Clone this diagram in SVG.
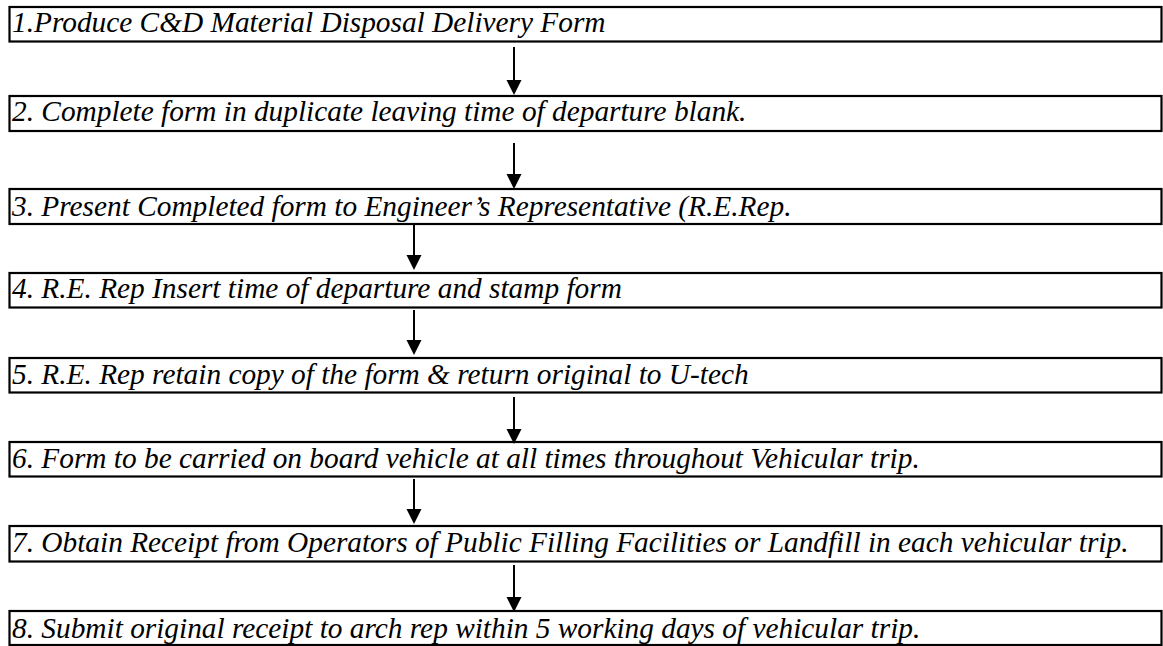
<svg xmlns="http://www.w3.org/2000/svg" width="1163" height="646" viewBox="0 0 1163 646">
<defs>
<style>
.box{fill:#fff;stroke:#000;stroke-width:2.2}
.lbl{font-family:"Liberation Serif","Times New Roman",serif;font-style:italic;font-size:29.33px;fill:#000}
.con{stroke:#000;stroke-width:2;fill:none}
.hd{fill:#000}
</style>
</defs>
<rect width="1163" height="646" fill="#fff"/>
<g id="n1"><rect class="box" x="9.5" y="7" width="1152" height="34.5"/><text class="lbl" x="12" y="32">1.Produce C&amp;D Material Disposal Delivery Form</text></g>
<g id="n2"><rect class="box" x="9.5" y="96" width="1152" height="35"/><text class="lbl" x="12" y="121">2. Complete form in duplicate leaving time of departure blank.</text></g>
<g id="n3"><rect class="box" x="9.5" y="189" width="1152" height="35"/><text class="lbl" x="12" y="216">3. Present Completed form to Engineer’s Representative (R.E.Rep.</text></g>
<g id="n4"><rect class="box" x="9.5" y="273" width="1152" height="34.5"/><text class="lbl" x="12" y="298">4. R.E. Rep Insert time of departure and stamp form</text></g>
<g id="n5"><rect class="box" x="9.5" y="358" width="1152" height="34.5"/><text class="lbl" x="12" y="384">5. R.E. Rep retain copy of the form &amp; return original to U-tech</text></g>
<g id="n6"><rect class="box" x="9.5" y="442" width="1152" height="34.5"/><text class="lbl" x="12" y="468">6. Form to be carried on board vehicle at all times throughout Vehicular trip.</text></g>
<g id="n7"><rect class="box" x="9.5" y="526" width="1152" height="35.5"/><text class="lbl" x="12" y="552">7. Obtain Receipt from Operators of Public Filling Facilities or Landfill in each vehicular trip.</text></g>
<g id="n8"><rect class="box" x="9.5" y="611" width="1152" height="34"/><text class="lbl" x="12" y="638">8. Submit original receipt to arch rep within 5 working days of vehicular trip.</text></g>
<g id="connectors">
<line class="con" x1="514" y1="47" x2="514" y2="81"/><polygon class="hd" points="506.5,80 521.5,80 514,95"/>
<line class="con" x1="514" y1="143" x2="514" y2="175"/><polygon class="hd" points="506.5,174 521.5,174 514,189"/>
<line class="con" x1="414" y1="223" x2="414" y2="256"/><polygon class="hd" points="406.5,255 421.5,255 414,270"/>
<line class="con" x1="414" y1="310" x2="414" y2="341"/><polygon class="hd" points="406.5,340 421.5,340 414,355"/>
<line class="con" x1="514" y1="397" x2="514" y2="430"/><polygon class="hd" points="506.5,429 521.5,429 514,444"/>
<line class="con" x1="414" y1="479" x2="414" y2="510"/><polygon class="hd" points="406.5,509 421.5,509 414,524"/>
<line class="con" x1="514" y1="565" x2="514" y2="598"/><polygon class="hd" points="506.5,597 521.5,597 514,612"/>
</g>
</svg>
